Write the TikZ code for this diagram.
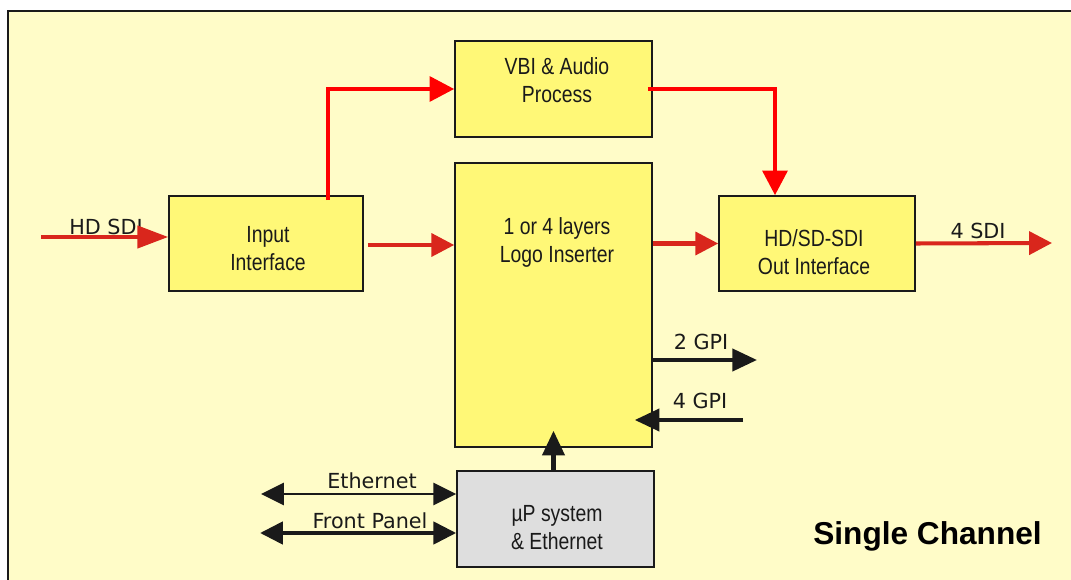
\documentclass[tikz,border=0pt]{standalone}
\usepackage{fontspec}
\setmainfont{Liberation Sans}
\newfontfamily\narrowsf[FakeStretch=0.83]{Liberation Sans}
\newfontfamily\handsf{DejaVu Sans}
\usepackage{tikz}
\usetikzlibrary{arrows.meta,positioning,calc}
\definecolor{ink}{HTML}{1A1A1A}
\definecolor{paper}{HTML}{FFFCC8}
\definecolor{boxfill}{HTML}{FFF877}
\definecolor{cpufill}{HTML}{DEDEDE}
\definecolor{sigred}{HTML}{D9261C}
\definecolor{hotred}{HTML}{FF0000}

\begin{document}
\begin{tikzpicture}[x=0.02cm,y=-0.02cm,
  blk/.style={draw=ink,line width=0.9pt,fill=boxfill,inner sep=0pt},
  boxtxt/.style={font=\narrowsf\fontsize{13.3}{15.9}\selectfont,align=center,inner sep=0pt,text=ink},
  hand/.style={font=\handsf\fontsize{11.8}{14}\selectfont,inner sep=0pt,text=ink},
  sig/.style={sigred,line width=2.3pt,-{Triangle[length=13pt,width=13pt]}},
  hot/.style={hotred,line width=2.5pt,-{Triangle[length=14pt,width=14pt]}},
  ctl/.style={ink,line width=2.3pt,-{Triangle[length=14pt,width=12.5pt]}},
  duplex/.style={ink,{Triangle[length=13pt,width=12.5pt]}-{Triangle[length=13pt,width=12.5pt]}}]
\useasboundingbox (0,0) rectangle (1071,580);
\clip (0,0) rectangle (1071,580);
\fill[white] (0,0) rectangle (1071,580);
\draw[ink,line width=1pt,fill=paper] (8,11) rectangle (1100,620);
% blocks
\foreach \nm/\cx/\cy/\w/\h/\fc in {vbi/553.5/89/3.94/1.92/boxfill,logo/553.5/305/3.94/5.68/boxfill,
    inp/266/243.5/3.88/1.9/boxfill,out/817/243.5/3.92/1.9/boxfill,up/555.5/519/3.94/1.92/cpufill}
  \node[blk,fill=\fc,minimum width=\w cm,minimum height=\h cm] (\nm) at (\cx,\cy) {};
\node[boxtxt] (vbitxt) at (557,80) {VBI \& Audio\\Process};
\node[boxtxt] (logotxt) at (557,242) {1 or 4 layers\\Logo Inserter};
\node[boxtxt] (inptxt) at (268,249) {Input\\Interface};
\node[boxtxt] (outtxt) at (814,252) {HD/SD-SDI\\Out Interface};
\node[boxtxt] (uptxt) at (557,528) {µP system\\\& Ethernet};
% labels
\foreach \nm/\tx/\cx/\cy in {hdlbl/HD SDI/106/227,sdilbl/4 SDI/978/231,gpolbl/2 GPI/701/342,
    gpilbl/4 GPI/700/401,ethlbl/Ethernet/372/481,fplbl/Front Panel/370/521}
  \node[hand] (\nm) at (\cx,\cy) {\tx};
\node[font=\fontsize{18}{20}\selectfont\bfseries,text=black,inner sep=0pt] (title) at (927.5,536) {Single Channel};
% free ends
\coordinate (hdin) at (41,237);
\coordinate (sdiout) at (1052,243);
\coordinate (gpo) at (757,360);
\coordinate (gpi) at (743,420);
\coordinate (eth) at (261,494);
\coordinate (fp) at (260,533);
% video path
\draw[sig,-{Triangle[length=17.5pt,width=12.5pt]}] (hdin) -- (hdin -| inp.west);
\draw[sig] ($(inp.east)+(4,1.5)$) coordinate (a) -- (a -| logo.west);
\draw[sig] (out.west -| logo.east) -- (out.west);
\draw[sig] (out.east) -- (sdiout);
\draw[hot] ($(inp.north)+(62,5)$) |- (vbi.west);
\draw[hot] ($(vbi.east)+(-5,0)$) -| ($(out.north)+(-42,0)$);
% control
\draw[ctl] (gpo -| logo.east) -- (gpo);
\draw[ctl] (gpi) -- ($(gpi -| logo.east)+(-18,0)$);
\draw[ctl] ($(up.north)+(-2,1)$) -- ($(up.north |- logo.south)+(-2,-17)$);
\draw[duplex,line width=1.6pt] (eth) -- (eth -| up.west);
\draw[duplex,line width=2.6pt] (fp) -- (fp -| up.west);
\end{tikzpicture}
\end{document}
